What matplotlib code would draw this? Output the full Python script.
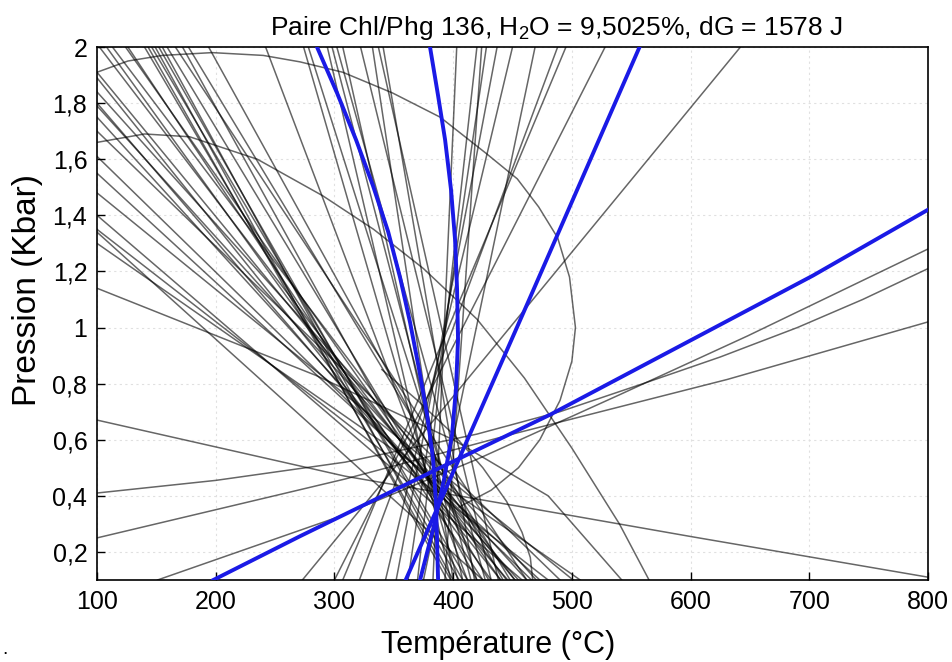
import numpy as np
import matplotlib
matplotlib.use('Agg')
import matplotlib.pyplot as plt
from matplotlib.ticker import FuncFormatter

plt.rcParams['font.family'] = ['Liberation Sans', 'DejaVu Sans']
plt.rcParams['mathtext.fontset'] = 'custom'
plt.rcParams['mathtext.rm'] = 'Liberation Sans'
plt.rcParams['mathtext.it'] = 'Liberation Sans:italic'

# equilibrium curves, T in degC, P in kbar
blue_1 = [(285.3, 2.0), (302.2, 1.836), (318.2, 1.669), (332.5, 1.505), (345.2, 1.342), (355.3, 1.178),
          (363.7, 1.018), (371.3, 0.851), (378.0, 0.690), (383.1, 0.530), (385.6, 0.370), (387.3, 0.10)]
blue_2 = [(380.5, 2.0), (387.2, 1.829), (393.2, 1.669), (398.2, 1.491), (401.6, 1.313), (403.3, 1.135),
          (404.1, 0.957), (402.4, 0.783), (399.1, 0.619), (392.3, 0.459), (383.1, 0.281), (372.1, 0.10)]
blue_3 = [(557, 2.0), (462, 1.08), (360, 0.10)]
blue_4 = [(198, 0.10), (271, 0.256), (389, 0.50), (482, 0.69), (616, 0.99), (703, 1.185), (800, 1.42)]

# straight black curves from the left border: P at T=100 and T where they leave at P=0.1
left_P = [1.91, 1.89, 1.84, 1.80, 1.79, 1.75, 1.70, 1.61, 1.55, 1.48, 1.40, 1.35, 1.34, 1.30]
left_Tb = [452, 440, 470, 446, 462, 455, 490, 466, 473, 501, 458, 480, 425, 507]

# straight black curves from the top border: T at P=2 and T at P=0.1
top_T = [102, 108, 113, 124, 126, 140, 143, 146, 149, 152, 155, 159, 166, 172, 177, 194, 242,
         274, 278, 294, 298, 302, 307, 322, 332, 337, 341]
top_Tb = [445, 432, 452, 440, 425, 405, 398, 412, 395, 408, 400, 430, 462, 420, 448, 442, 412,
          404, 420, 398, 415, 427, 408, 432, 400, 438, 418]

# straight curves with positive slope: T at P=0.1 and T at P=2
rise_Tb = [273, 300, 307, 321, 343, 352, 362, 370, 375, 383, 393]
rise_Tt = [642, 528, 495, 488, 450, 437, 428, 420, 469, 403, 424]

# bent curves
bent_1 = [(100, 1.14), (284, 0.83), (400, 0.60), (480, 0.40), (542, 0.10)]
bent_2 = [(100, 0.67), (309, 0.47), (425, 0.385), (600, 0.255), (800, 0.11)]
bent_3 = [(151, 0.10), (300, 0.32), (420, 0.53), (540, 0.76), (648, 0.97), (800, 1.28)]
bent_4 = [(100, 0.41), (200, 0.455), (309, 0.52), (420, 0.62), (490, 0.70), (560, 0.80), (625, 0.895),
          (690, 1.0), (745, 1.10), (800, 1.21)]
bent_5 = [(100, 0.25), (309, 0.46), (450, 0.62), (631, 0.815), (800, 1.02)]
bent_6 = [(100, 1.66), (140, 1.69), (178, 1.68), (235, 1.60), (290, 1.47), (333, 1.35), (375, 1.21),
          (420, 1.03), (460, 0.82), (500, 0.57), (540, 0.30), (565, 0.10)]
big_arc = [(100, 1.91), (126, 1.95), (155, 1.97), (197, 1.98), (240, 1.97), (271, 1.947), (307, 1.91),
           (349, 1.836), (389, 1.75), (428, 1.62), (454, 1.53), (472, 1.43), (488, 1.32), (498, 1.18),
           (503, 1.0), (500, 0.88), (490, 0.74), (473, 0.60), (455, 0.50), (432, 0.42), (405, 0.36)]
lower_arc = [(340, 0.85), (370, 0.74), (400, 0.62), (425, 0.50), (445, 0.38), (458, 0.27), (465, 0.18), (467, 0.10)]

x_ticks = [100, 200, 300, 400, 500, 600, 700, 800]
y_ticks = [0.2, 0.4, 0.6, 0.8, 1.0, 1.2, 1.4, 1.6, 1.8, 2.0]

fig = plt.figure(figsize=(9.53, 6.62), dpi=100)
ax = fig.add_axes([0.1018, 0.1239, 0.8720, 0.8051])

line_kw = dict(color='k', lw=1.1, alpha=0.6, zorder=2)
for p, tb in zip(left_P, left_Tb):
    ax.plot([100, tb], [p, 0.1], **line_kw)
for tt, tb in zip(top_T, top_Tb):
    ax.plot([tt, tb], [2.0, 0.1], **line_kw)
for tb, tt in zip(rise_Tb, rise_Tt):
    ax.plot([tb, tt], [0.1, 2.0], **line_kw)
for c in [bent_1, bent_2, bent_3, bent_4, bent_5, bent_6, big_arc, lower_arc]:
    t, p = zip(*c)
    ax.plot(t, p, **line_kw)

for c in [blue_1, blue_2, blue_3, blue_4]:
    t, p = zip(*c)
    ax.plot(t, p, color='#1a1ae6', lw=2.8, zorder=3)

ax.set_xlim(100, 800)
ax.set_ylim(0.1, 2.0)
ax.set_xticks(x_ticks)
ax.set_yticks(y_ticks)
ax.yaxis.set_major_formatter(FuncFormatter(lambda v, pos: ('%g' % v).replace('.', ',')))
ax.tick_params(direction='in', length=6, width=1, labelsize=18, pad=7)
ax.grid(True, color='#e0e0e0', linestyle=(0, (2, 3)), lw=0.8)
ax.set_axisbelow(True)
for s in ax.spines.values():
    s.set_linewidth(1.2)

ax.set_title('Paire Chl/Phg 136, H$_2$O = 9,5025%, dG = 1578 J', fontsize=19, x=0.552, pad=9)
ax.set_xlabel('Température (°C)', fontsize=22, labelpad=12, x=0.483)
ax.set_ylabel('Pression (Kbar)', fontsize=24, labelpad=7, y=0.544)
fig.text(0.002, 0.012, '.', fontsize=14)

fig.savefig('out.png', dpi=100)
